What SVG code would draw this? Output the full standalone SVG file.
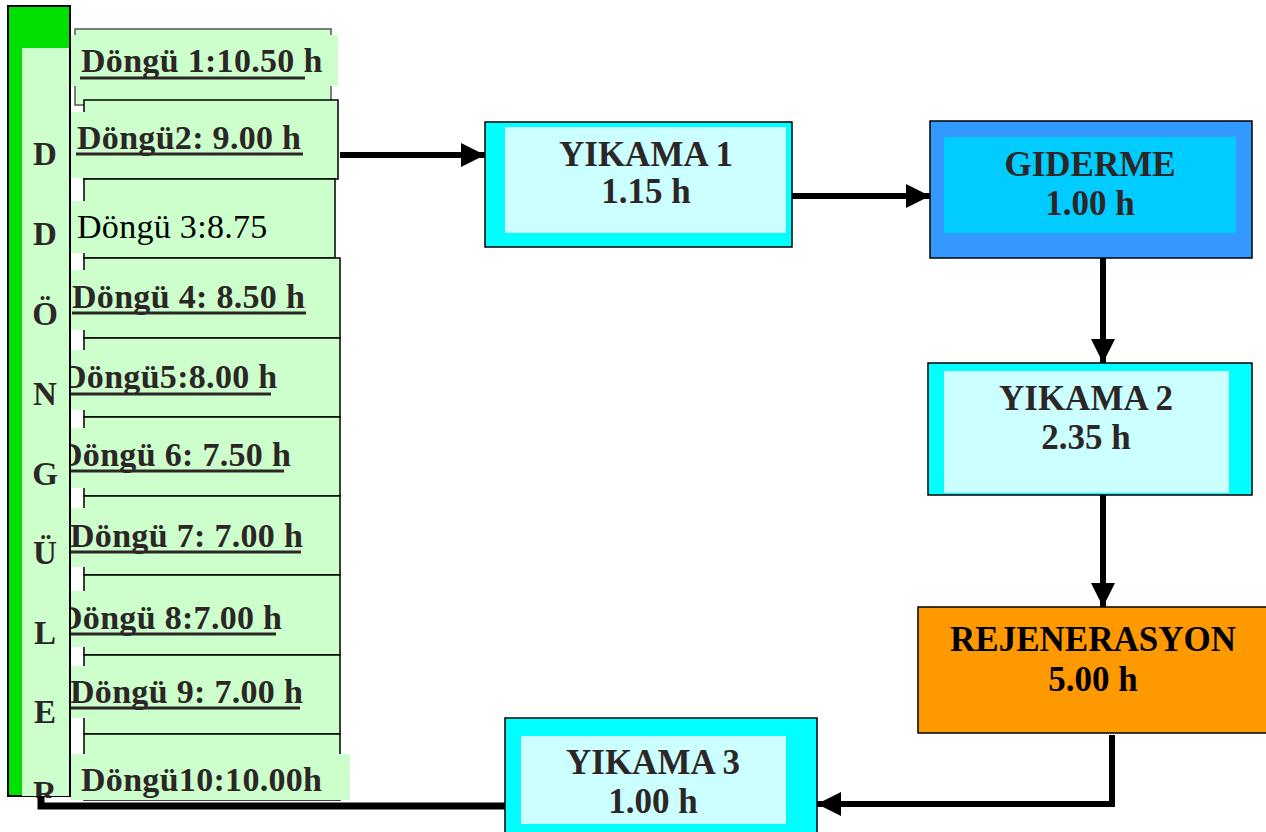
<svg xmlns="http://www.w3.org/2000/svg" width="1266" height="832" viewBox="0 0 1266 832">
<style>
text{font-family:"Liberation Serif","Times New Roman",serif;fill:#2d2626}
.b{font-weight:bold}
.lbl{font-size:34px;letter-spacing:0.3px}
.big{font-size:35px;font-weight:bold;text-anchor:middle}
.let{font-size:33px;font-weight:bold;text-anchor:middle}
.box{fill:#ccffcc;stroke:#000;stroke-width:1.5}
.bg{fill:#ccffcc}
.ul{stroke:#2d2626;stroke-width:3}
.con{stroke:#000;stroke-width:6;fill:none}
</style>
<defs>
<marker id="ah" viewBox="0 0 10 10" refX="10" refY="5" markerWidth="4" markerHeight="4" orient="auto" markerUnits="strokeWidth">
<path d="M0,0 L10,5 L0,10 z" fill="#000"/>
</marker>
</defs>
<rect width="1266" height="832" fill="#fff"/>

<g id="cycles">
<g id="c1"><rect class="box" x="75" y="29" width="256" height="76" style="stroke:#555"/><rect class="bg" x="71" y="35" width="267" height="51"/><text class="b lbl" x="81" y="72">Döngü 1:10.50 h</text><line class="ul" x1="80" y1="78" x2="305" y2="78"/></g>
<g id="c2"><rect class="box" x="84" y="100" width="254" height="79"/><rect class="bg" x="71" y="112" width="266" height="66"/><text class="b lbl" x="77" y="149">Döngü2: 9.00 h</text><line class="ul" x1="76" y1="154" x2="303" y2="154"/></g>
<g id="c3"><rect class="box" x="84" y="179" width="251" height="79"/><rect class="bg" x="71" y="201" width="263" height="52"/><text class="lbl" x="77" y="238" style="fill:#000">Döngü 3:8.75</text></g>
<g id="c4"><rect class="box" x="84" y="258" width="256" height="80"/><rect class="bg" x="71" y="270" width="268" height="60"/><text class="b lbl" x="72" y="308">Döngü 4: 8.50 h</text><line class="ul" x1="72" y1="313" x2="306" y2="313"/></g>
<g id="c5"><rect class="box" x="84" y="338" width="256" height="79"/><rect class="bg" x="70" y="350" width="269" height="60"/><text class="b lbl" x="62" y="388">Döngü5:8.00 h</text><line class="ul" x1="70" y1="394" x2="271" y2="394"/></g>
<g id="c6"><rect class="box" x="84" y="417" width="256" height="79"/><rect class="bg" x="70" y="428" width="269" height="60"/><text class="b lbl" x="58" y="466">Döngü 6: 7.50 h</text><line class="ul" x1="70" y1="471" x2="284" y2="471"/></g>
<g id="c7"><rect class="box" x="84" y="496" width="256" height="79"/><rect class="bg" x="70" y="508" width="269" height="59"/><text class="b lbl" x="70" y="547">Döngü 7: 7.00 h</text><line class="ul" x1="70" y1="552" x2="301" y2="552"/></g>
<g id="c8"><rect class="box" x="84" y="575" width="256" height="80"/><rect class="bg" x="70" y="591" width="269" height="56"/><text class="b lbl" x="58" y="629">Döngü 8:7.00 h</text><line class="ul" x1="70" y1="634" x2="276" y2="634"/></g>
<g id="c9"><rect class="box" x="84" y="655" width="256" height="79"/><rect class="bg" x="70" y="666" width="269" height="52"/><text class="b lbl" x="70" y="703">Döngü 9: 7.00 h</text><line class="ul" x1="70" y1="708" x2="300" y2="708"/></g>
<g id="c10"><rect class="box" x="84" y="734" width="256" height="66"/><rect class="bg" x="70" y="754" width="280" height="46"/><text class="b lbl" x="81" y="791">Döngü10:10.00h</text></g>
</g>

<g id="bar">
<rect x="8" y="6" width="62" height="790" fill="#00e000" stroke="#000" stroke-width="2"/>
<rect x="22" y="48" width="47" height="748" fill="#ccffcc"/>
<text class="let" x="45" y="165">D</text>
<text class="let" x="45" y="245">D</text>
<text class="let" x="45" y="325">Ö</text>
<text class="let" x="45" y="405">N</text>
<text class="let" x="45" y="485">G</text>
<text class="let" x="45" y="564">Ü</text>
<text class="let" x="45" y="644">L</text>
<text class="let" x="45" y="723">E</text>
<text class="let" x="45" y="804">R</text>
</g>
<rect x="0" y="798" width="70" height="34" fill="#fff"/>

<g id="connectors">
<line class="con" x1="340" y1="155" x2="485" y2="155" marker-end="url(#ah)"/>
<line class="con" x1="792" y1="196" x2="930" y2="196" marker-end="url(#ah)"/>
<line class="con" x1="1103" y1="258" x2="1103" y2="363" marker-end="url(#ah)"/>
<line class="con" x1="1103" y1="495" x2="1103" y2="607" marker-end="url(#ah)"/>
<polyline class="con" points="1112,735 1112,804 817,804" marker-end="url(#ah)"/>
<polyline class="con" points="505,806 41,806 41,796" style="stroke-width:7"/>
</g>

<g id="yikama1">
<rect x="485" y="122" width="307" height="125" fill="#00ffff" stroke="#000" stroke-width="1.5"/>
<rect x="505" y="127" width="281" height="106" fill="#ccffff"/>
<text class="big" x="646" y="166">YIKAMA 1</text>
<text class="big" x="646" y="203">1.15 h</text>
</g>
<g id="giderme">
<rect x="930" y="121" width="322" height="137" fill="#3399ff" stroke="#000" stroke-width="1.5"/>
<rect x="944" y="137" width="292" height="96" fill="#00ccff"/>
<text class="big" x="1090" y="176">GIDERME</text>
<text class="big" x="1090" y="215">1.00 h</text>
</g>
<g id="yikama2">
<rect x="928" y="363" width="324" height="132" fill="#00ffff" stroke="#000" stroke-width="1.5"/>
<rect x="944" y="371" width="285" height="122" fill="#ccffff"/>
<text class="big" x="1086" y="410">YIKAMA 2</text>
<text class="big" x="1086" y="449">2.35 h</text>
</g>
<g id="rejenerasyon">
<rect x="918" y="607" width="352" height="126" fill="#ff9900" stroke="#000" stroke-width="1.5"/>
<text class="big" x="1093" y="651" style="fill:#000">REJENERASYON</text>
<text class="big" x="1093" y="691" style="fill:#000">5.00 h</text>
</g>
<g id="yikama3">
<rect x="505" y="718" width="312" height="120" fill="#00ffff" stroke="#000" stroke-width="1.5"/>
<rect x="521" y="736" width="265" height="88" fill="#ccffff"/>
<text class="big" x="653" y="774">YIKAMA 3</text>
<text class="big" x="653" y="813">1.00 h</text>
</g>
</svg>
